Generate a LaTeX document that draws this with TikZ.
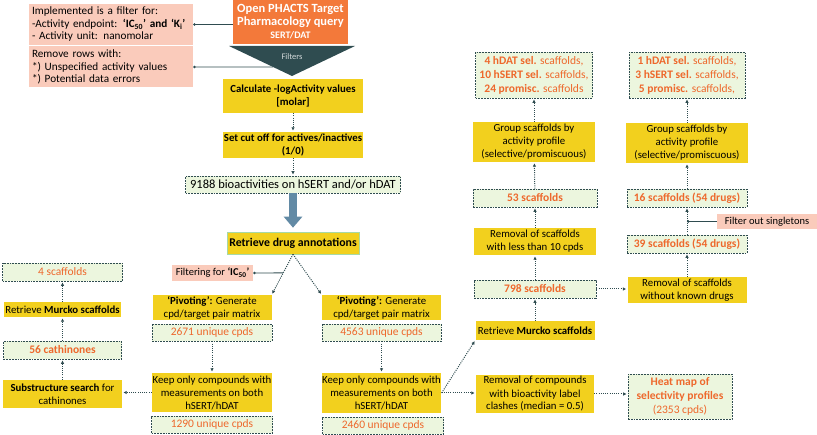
\documentclass[tikz,border=0pt]{standalone}
\usepackage{fontspec}
\setmainfont{Carlito}
\usetikzlibrary{arrows.meta,calc}

\definecolor{boxyellow}{RGB}{242,208,30}
\definecolor{boxgreen}{RGB}{236,246,222}
\definecolor{boxsalmon}{RGB}{250,203,187}
\definecolor{queryorange}{RGB}{243,121,58}
\definecolor{darkteal}{RGB}{47,76,80}
\definecolor{txtorange}{RGB}{238,104,44}
\definecolor{bigblue}{RGB}{98,138,165}

\begin{document}
\begin{tikzpicture}[x=1pt, y=-1pt, font=\fontsize{10.8}{13}\selectfont]
    % Define styles
    \tikzstyle{process} = [rectangle, inner sep=0.5pt, align=center, fill=boxyellow]
    \tikzstyle{result} = [rectangle, inner sep=0.5pt, align=center, fill=boxgreen, draw=darkteal, line width=0.8pt, dash pattern=on 1.8pt off 1pt, text=txtorange, font=\fontsize{11.5}{14}\selectfont]
    \tikzstyle{filterbox} = [rectangle, inner sep=3pt, align=left, fill=boxsalmon, font=\fontsize{11.2}{12.5}\selectfont]
    \tikzstyle{query} = [rectangle, inner sep=1pt, align=center, fill=queryorange, text=white, font=\fontsize{12.5}{13}\selectfont\bfseries]
    \tikzstyle{arrow} = [darkteal, line width=1pt, dash pattern=on 1pt off 1.2pt, -{Latex[length=3.5pt,width=3.5pt]}, shorten >=1pt]
    \tikzstyle{link} = [darkteal, line width=0.9pt, {Circle[length=2.5pt]}-]
    \tikzstyle{bigarrow} = [bigblue, line width=8pt, -{Triangle[length=11pt,width=18pt]}, shorten >=4pt]

    \useasboundingbox (0,0) rectangle (817,435);

    % Query and filters
    \node (phacts) [query, minimum width=115, minimum height=44] at (290.5,22) {Open PHACTS Target\\Pharmacology query\\\fontsize{10}{12}\selectfont SERT/DAT};
    \coordinate (tri_l) at (229,46);
    \coordinate (tri_r) at (355,46);
    \coordinate (tri_apex) at (292,76);
    \fill [darkteal] (tri_l) -- (tri_r) -- (tri_apex) -- cycle;
    \node (filters) [text=white!80!darkteal, font=\fontsize{8.5}{9}\selectfont] at (292,57) {Filters};
    \coordinate (filt_edge) at ($(tri_l)!0.7!(tri_apex)$);
    \node (filt_impl) [filterbox, minimum height=41, text width=158] at (111,24.5) {Implemented is a filter for:\\-Activity endpoint: \textbf{‘IC\textsubscript{50}’ and ‘K\textsubscript{i}’}\\- Activity unit: nanomolar};
    \node (rm_rows) [filterbox, minimum height=41, text width=158] at (111,67) {Remove rows with:\\{*}) Unspecified activity values\\{*}) Potential data errors};

    % Main column
    \node (calc) [process, minimum width=140, minimum height=34] at (293,96) {\textbf{Calculate -logActivity values}\\\textbf{[molar]}};
    \node (cutoff) [process, minimum width=140, minimum height=26] at (293,145) {\textbf{Set cut off for actives/inactives}\\\textbf{(1/0)}};
    \node (bio) [result, text=black, font=\fontsize{12.5}{14}\selectfont, minimum width=215, minimum height=17] at (293,184.5) {9188 bioactivities on hSERT and/or hDAT};
    \node (drug) [process, draw=green!40!gray!50, line width=0.6pt, font=\fontsize{11.8}{13}\selectfont, minimum width=132, minimum height=22] at (293,243) {\textbf{Retrieve drug annotations}};
    \node (ic50) [filterbox, inner sep=1pt, font=\fontsize{10.5}{12}\selectfont, minimum width=81, minimum height=16] at (212.5,273) {Filtering for \textbf{‘IC\textsubscript{50}’}};

    % Left branch
    \node (piv_l) [process, minimum width=119, minimum height=25] at (212,307.5) {\textbf{‘Pivoting’:} Generate\\cpd/target pair matrix};
    \node (cpd_l) [result, minimum width=120, minimum height=17] at (212,332.5) {2671 unique cpds};
    \node (keep_l) [process, minimum width=119, minimum height=39] at (212,392.5) {Keep only compounds with\\measurements on both\\hSERT/hDAT};
    \node (cpd_keep_l) [result, minimum width=121, minimum height=17] at (212,424.5) {1290 unique cpds};
    \coordinate (ic50_join) at ($(drug.south)!0.46!(piv_l.north east)$);

    % Right branch
    \node (piv_r) [process, minimum width=119, minimum height=25] at (381.5,307.5) {\textbf{‘Pivoting’:} Generate\\cpd/target pair matrix};
    \node (cpd_r) [result, minimum width=119, minimum height=17] at (381.5,332.5) {4563 unique cpds};
    \node (keep_r) [process, minimum width=119, minimum height=40] at (381.5,393) {Keep only compounds with\\measurements on both\\hSERT/hDAT};
    \node (cpd_keep_r) [result, minimum width=121, minimum height=17] at (383,425.5) {2460 unique cpds};

    % Cathinones
    \node (subs) [process, minimum width=119, minimum height=28] at (62.5,394) {\textbf{Substructure search} for\\cathinones};
    \node (cath) [result, minimum width=118, minimum height=18] at (62.5,350) {\textbf{56 cathinones}};
    \node (murcko_l) [process, minimum width=117, minimum height=15] at (62.5,309.5) {Retrieve \textbf{Murcko scaffolds}};
    \node (scaf4) [result, minimum width=120, minimum height=18] at (62.5,272) {4 scaffolds};

    % Scaffolds
    \node (murcko_r) [process, minimum width=119, minimum height=19] at (535,330.5) {Retrieve \textbf{Murcko scaffolds}};
    \node (clash) [process, minimum width=118, minimum height=38] at (535,394) {Removal of compounds\\with bioactivity label\\clashes (median = 0.5)};
    \node (heat) [result, minimum width=104, minimum height=45] at (680,396.5) {\textbf{Heat map of}\\\textbf{selectivity profiles}\\(2353 cpds)};
    \node (scaf798) [result, minimum width=122, minimum height=18] at (535,289) {\textbf{798 scaffolds}};
    \node (less10) [process, minimum width=122, minimum height=27] at (535,241.5) {Removal of scaffolds\\with less than 10 cpds};
    \node (scaf53) [result, minimum width=124, minimum height=18] at (535,198) {\textbf{53 scaffolds}};
    \node (group_a) [process, minimum width=122, minimum height=40] at (534,142) {Group scaffolds by\\activity profile\\(selective/promiscuous)};
    \node (prof_a) [result, minimum width=117, minimum height=46] at (534,75) {\textbf{4 hDAT sel.} scaffolds,\\\textbf{10 hSERT sel.} scaffolds,\\\textbf{24 promisc.} scaffolds};

    \node (nodrug) [process, minimum width=119, minimum height=26] at (687,290) {Removal of scaffolds\\without known drugs};
    \node (scaf39) [result, minimum width=120, minimum height=18] at (687,244) {\textbf{39 scaffolds (54 drugs)}};
    \node (singletons) [filterbox, inner sep=1pt, font=\fontsize{10.5}{12}\selectfont, minimum width=100, minimum height=15] at (767,221.5) {Filter out singletons};
    \coordinate (sing_join) at (scaf39.north |- singletons.west);
    \node (scaf16) [result, minimum width=120, minimum height=18] at (687,198) {\textbf{16 scaffolds (54 drugs)}};
    \node (group_b) [process, minimum width=122, minimum height=40] at (687,143) {Group scaffolds by\\activity profile\\(selective/promiscuous)};
    \node (prof_b) [result, minimum width=116, minimum height=46] at (687,75) {\textbf{1 hDAT sel.} scaffolds,\\\textbf{3 hSERT sel.} scaffolds,\\\textbf{5 promisc.} scaffolds,};

    % Filter links
    \draw [link] (filt_impl.east) -- (filt_impl.east -| phacts.west);
    \draw [link] (rm_rows.east) -- (filt_edge);
    \draw [link] (ic50.east) -- (ic50_join);
    \draw [link] (sing_join) -- (singletons.west);

    % Arrows
    \draw [arrow] (calc) -- (cutoff);
    \draw [arrow] (cutoff) -- (bio);
    \draw [bigarrow] (bio) -- (drug);
    \draw [arrow] (drug.south) -- (piv_l.north east);
    \draw [arrow] (drug.south) -- (piv_r.north west);
    \draw [arrow] (cpd_l) -- (keep_l);
    \draw [arrow] (cpd_r) -- (keep_r);
    \draw [arrow] (keep_l.west) -- (keep_l.west -| subs.east);
    \draw [arrow] (subs) -- (cath);
    \draw [arrow] (cath) -- (murcko_l);
    \draw [arrow] (murcko_l) -- (scaf4);
    \draw [arrow] (keep_r.east) -- (murcko_r.south west);
    \draw [arrow] (keep_r.east) -- (keep_r.east -| clash.west);
    \draw [arrow] (clash.east) -- (clash.east -| heat.west);
    \draw [arrow] (murcko_r) -- (scaf798);
    \draw [arrow] (scaf798) -- (less10);
    \draw [arrow] (less10) -- (scaf53);
    \draw [arrow] (scaf53) -- (group_a);
    \draw [arrow] (group_a) -- (prof_a);
    \draw [arrow] (scaf798.east) -- (scaf798.east -| nodrug.west);
    \draw [arrow] (nodrug) -- (scaf39);
    \draw [arrow] (scaf39) -- (scaf16);
    \draw [arrow] (scaf16) -- (group_b);
    \draw [arrow] (group_b) -- (prof_b);
\end{tikzpicture}
\end{document}
